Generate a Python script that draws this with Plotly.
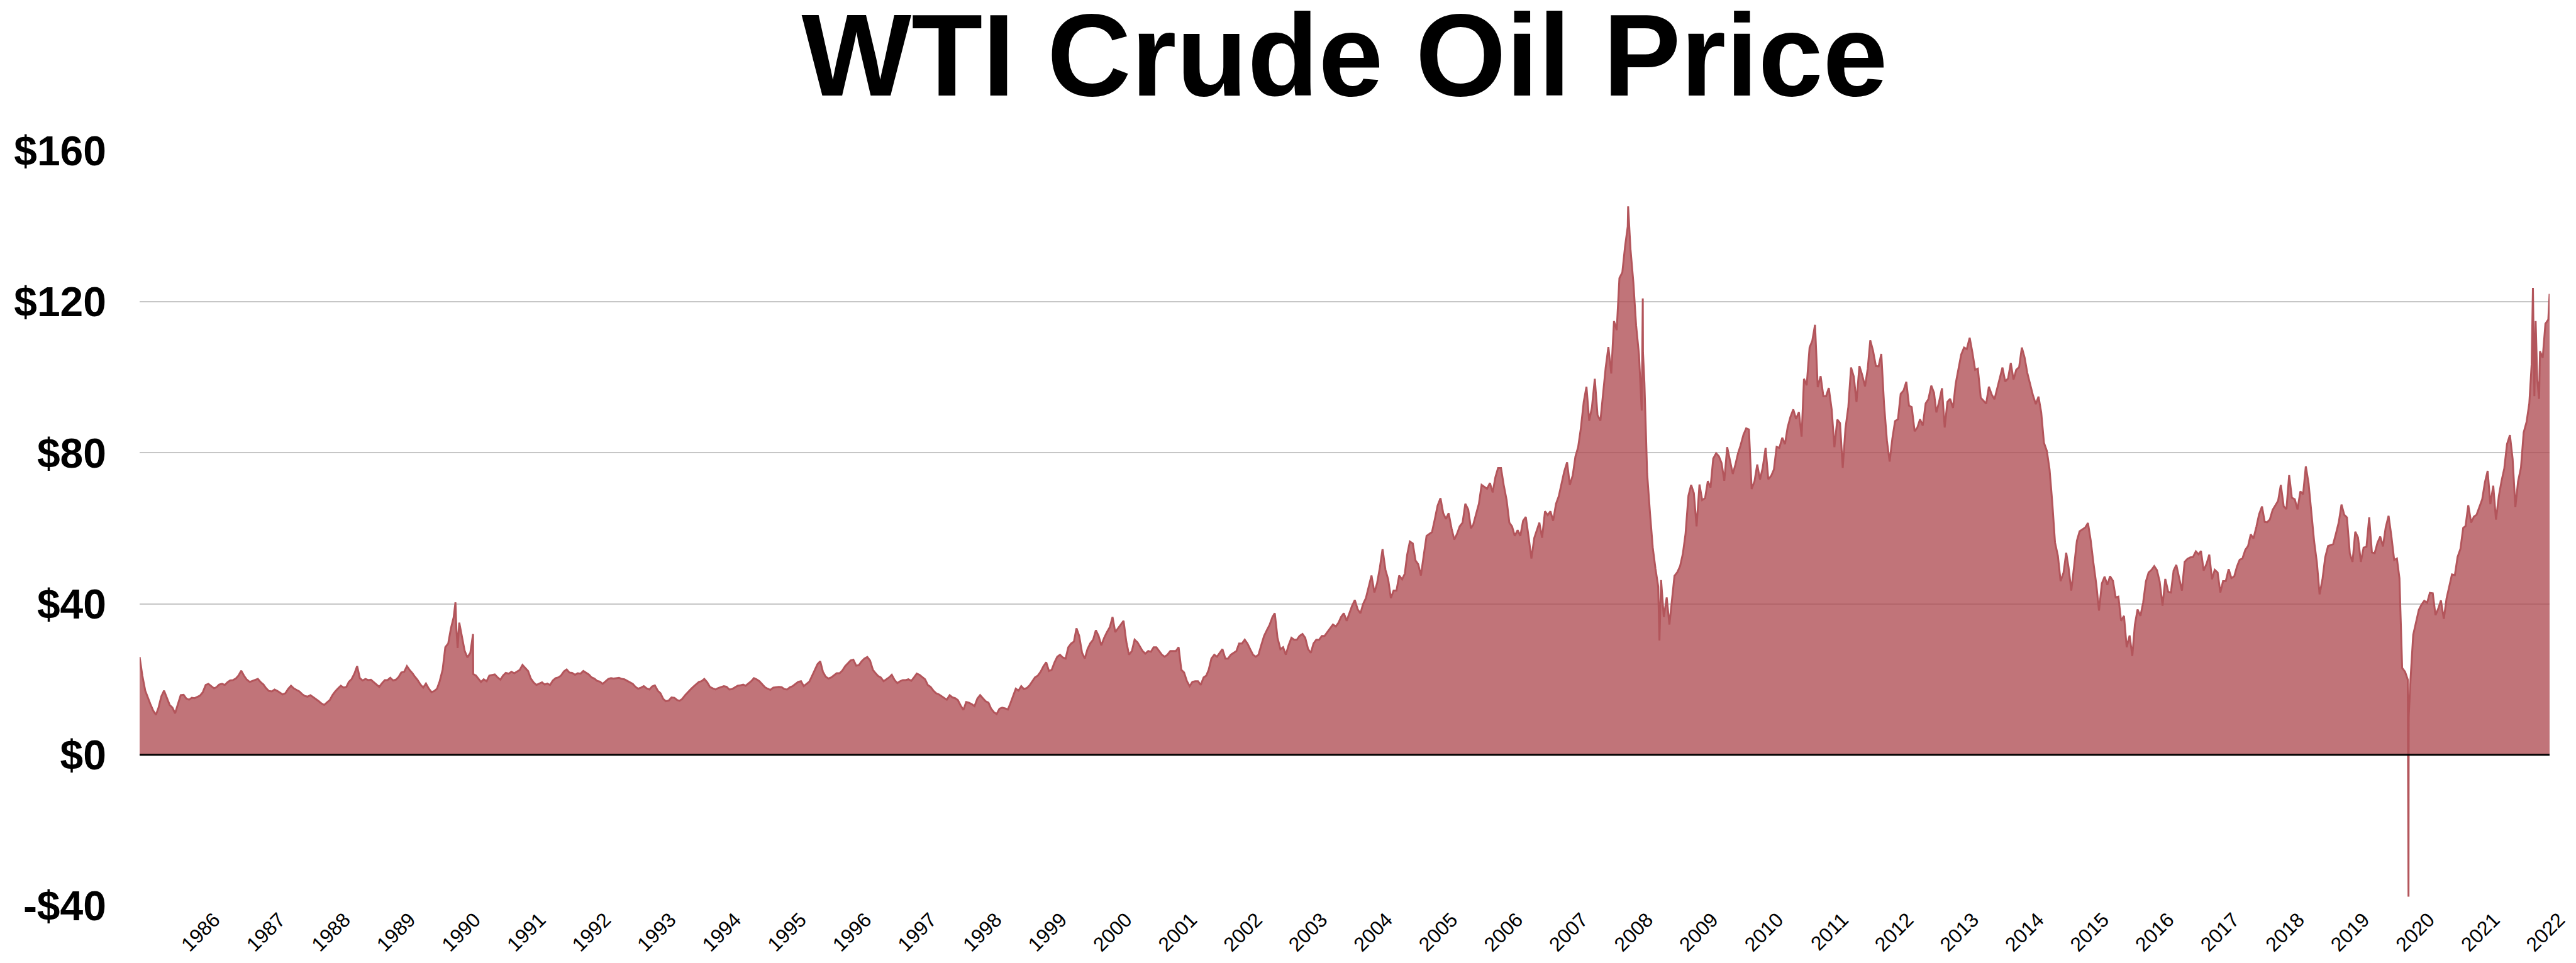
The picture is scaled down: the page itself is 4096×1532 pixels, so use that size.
import plotly.graph_objects as go
import pandas as pd

# Semi-monthly WTI prices (1st and 16th of each month)
wti_1986 = [25.9, 21.0, 17.0, 15.0, 13.5, 11.8, 10.6, 12.6, 15.5, 17.0, 15.0, 13.2, 12.5, 11.0, 13.5, 15.8, 15.9, 14.9, 14.6, 15.1, 15.0, 15.3, 15.7, 16.6]
wti_1987 = [18.5, 18.8, 18.2, 17.6, 17.9, 18.6, 18.8, 18.5, 19.2, 19.7, 19.8, 20.2, 21.0, 22.3, 20.9, 19.9, 19.3, 19.6, 19.9, 20.1, 19.2, 18.6, 17.6, 16.9]
wti_1988 = [16.8, 17.3, 16.9, 16.4, 16.0, 16.3, 17.5, 18.3, 17.6, 17.2, 16.8, 16.1, 15.6, 15.4, 15.8, 15.3, 14.8, 14.2, 13.6, 13.2, 13.9, 14.5, 15.8, 16.8]
wti_1989 = [17.6, 18.3, 17.8, 18.0, 19.3, 20.0, 21.5, 23.5, 20.3, 19.7, 20.1, 19.8, 19.9, 19.3, 18.6, 18.0, 19.0, 19.8, 19.8, 20.4, 19.7, 19.9, 20.6, 21.8]
wti_1990 = [22.0, 23.5, 22.4, 21.6, 20.7, 19.8, 18.6, 17.8, 18.9, 17.6, 16.6, 16.9, 17.5, 19.5, 22.5, 28.5, 29.5, 33.5, 36.4, 33.5, 35.0, 31.5, 27.5, 25.8]
wti_1991 = [27.0, 32.0, 21.0, 20.0, 19.3, 20.0, 19.5, 21.0, 21.2, 21.3, 20.5, 19.9, 21.0, 21.7, 21.5, 22.0, 21.6, 22.0, 22.5, 23.8, 23.0, 22.2, 20.2, 19.2]
wti_1992 = [18.5, 18.9, 19.2, 18.6, 18.9, 18.5, 19.7, 20.3, 20.5, 21.0, 22.1, 22.6, 21.8, 21.7, 21.2, 21.6, 21.5, 22.2, 21.8, 21.3, 20.5, 20.2, 19.6, 19.4]
wti_1993 = [18.8, 19.5, 20.1, 20.3, 20.2, 20.3, 20.4, 20.1, 20.0, 19.6, 19.2, 18.8, 18.0, 17.5, 17.8, 18.2, 17.6, 17.3, 18.1, 18.4, 17.0, 16.3, 14.8, 14.2]
wti_1994 = [14.4, 15.2, 15.1, 14.5, 14.3, 14.8, 15.8, 16.6, 17.3, 18.0, 18.7, 19.3, 19.5, 20.1, 19.2, 18.0, 17.6, 17.3, 17.7, 17.9, 18.2, 18.0, 17.3, 17.4]
wti_1995 = [17.8, 18.3, 18.4, 18.6, 18.3, 18.9, 19.5, 20.3, 20.0, 19.5, 18.6, 17.9, 17.5, 17.2, 17.8, 17.9, 18.0, 17.9, 17.4, 17.3, 17.9, 18.2, 18.8, 19.3]
wti_1996 = [19.5, 18.2, 18.8, 19.4, 20.8, 22.3, 24.0, 24.8, 22.0, 20.7, 20.2, 20.5, 21.0, 21.6, 21.6, 22.3, 23.5, 24.3, 25.0, 25.2, 23.6, 23.8, 24.8, 25.5]
wti_1997 = [25.9, 25.0, 22.5, 21.6, 20.9, 20.5, 19.5, 20.0, 20.5, 21.2, 19.8, 19.0, 19.5, 19.8, 19.8, 20.0, 19.6, 20.5, 21.5, 21.2, 20.6, 20.0, 18.5, 18.0]
wti_1998 = [17.0, 16.3, 16.0, 15.5, 15.0, 14.6, 15.8, 15.2, 15.0, 14.5, 13.0, 11.9, 14.0, 13.8, 13.4, 12.9, 14.9, 15.8, 15.0, 14.2, 13.8, 12.2, 11.3, 10.8]
wti_1999 = [12.2, 12.5, 12.3, 12.0, 13.5, 15.5, 17.5, 17.0, 18.2, 17.4, 17.7, 18.4, 19.5, 20.5, 21.0, 22.0, 23.5, 24.5, 22.2, 22.5, 24.5, 26.0, 26.5, 25.8]
wti_2000 = [25.5, 28.5, 29.5, 30.0, 33.5, 31.5, 27.0, 25.5, 28.0, 29.5, 30.5, 33.0, 31.5, 29.0, 31.0, 32.5, 33.8, 36.5, 32.5, 33.5, 34.5, 35.5, 30.0, 26.5]
wti_2001 = [27.5, 30.5, 29.8, 28.5, 27.5, 26.8, 27.5, 27.3, 28.5, 28.5, 27.5, 26.5, 26.0, 26.5, 27.5, 27.5, 27.5, 28.5, 22.5, 21.8, 19.5, 18.2, 19.3, 19.5]
wti_2002 = [19.5, 18.5, 20.5, 21.0, 22.5, 25.5, 26.5, 26.0, 27.0, 28.0, 25.5, 25.5, 26.5, 27.0, 27.5, 29.5, 29.5, 30.5, 29.5, 28.0, 26.5, 26.0, 26.5, 29.0]
wti_2003 = [31.5, 33.0, 34.5, 36.5, 37.5, 31.0, 28.0, 28.5, 26.5, 29.0, 31.0, 30.5, 30.5, 31.5, 32.0, 31.0, 28.0, 27.0, 29.5, 30.5, 30.5, 31.5, 31.5, 32.5]
wti_2004 = [33.5, 34.5, 34.0, 35.0, 36.5, 37.5, 35.5, 37.5, 39.5, 41.0, 38.5, 37.5, 40.0, 41.5, 44.5, 47.5, 43.0, 45.5, 49.5, 54.5, 49.0, 46.5, 41.5, 43.5]
wti_2005 = [43.5, 47.5, 46.5, 48.0, 53.0, 56.5, 56.0, 51.5, 50.5, 47.5, 53.0, 58.0, 58.5, 59.0, 62.5, 66.0, 68.0, 64.0, 62.5, 64.0, 60.0, 57.0, 58.5, 60.5]
wti_2006 = [61.5, 66.5, 65.0, 60.0, 61.0, 63.5, 66.5, 71.5, 71.0, 70.5, 72.0, 69.5, 73.5, 76.0, 76.0, 71.5, 67.5, 61.5, 60.5, 58.0, 59.5, 58.0, 62.0, 63.0]
wti_2007 = [57.5, 52.0, 57.5, 59.5, 61.5, 57.5, 64.5, 63.5, 64.5, 62.0, 66.5, 68.5, 72.0, 75.0, 77.5, 71.5, 74.0, 79.0, 81.5, 86.5, 93.5, 97.5, 88.5, 92.0]
wti_2008 = [99.6, 90.0, 88.5, 95.5, 102.5, 108.0, 101.0, 114.9, 112.5, 126.3, 127.8, 134.6, 140.0, 134.0, 125.1, 113.8, 106.0, 91.2, 98.5, 74.5, 63.9, 54.9, 49.3, 44.6]
wti_2009 = [46.3, 36.5, 41.7, 34.5, 40.2, 47.4, 48.4, 50.0, 53.2, 58.5, 68.6, 71.5, 69.3, 60.5, 71.6, 67.5, 68.0, 72.5, 70.8, 78.5, 79.9, 79.1, 77.3, 72.6]
wti_2010 = [81.5, 78.0, 74.4, 77.0, 79.7, 82.0, 84.8, 86.5, 86.2, 70.4, 72.5, 76.9, 72.9, 76.0, 81.3, 73.0, 73.9, 75.6, 81.6, 81.3, 84.0, 82.3, 86.8, 89.5]
wti_2011 = [91.5, 89.0, 90.8, 84.3, 99.6, 97.9, 107.9, 109.7, 113.9, 97.4, 100.3, 95.0, 95.0, 97.2, 91.5, 81.5, 88.8, 87.9, 76.0, 86.4, 92.2, 102.6, 100.2, 93.5]
wti_2012 = [103.0, 100.7, 97.6, 102.3, 109.8, 107.1, 103.0, 102.9, 106.2, 93.0, 83.2, 77.7, 83.8, 88.4, 88.9, 95.6, 96.5, 98.8, 92.5, 92.1, 85.7, 86.7, 88.9, 87.2]
wti_2013 = [93.1, 94.2, 97.8, 95.9, 90.7, 93.5, 97.1, 86.7, 93.5, 94.3, 91.9, 98.4, 101.9, 106.0, 107.9, 107.5, 110.5, 106.6, 102.0, 102.3, 94.6, 93.8, 93.0, 97.5]
wti_2014 = [95.4, 94.2, 97.4, 100.3, 102.6, 98.9, 99.7, 103.8, 99.4, 102.0, 102.7, 107.9, 105.3, 101.2, 97.9, 95.3, 92.9, 94.9, 90.7, 82.7, 80.5, 75.6, 66.8, 56.3]
wti_2015 = [52.7, 46.0, 48.2, 53.5, 49.6, 43.5, 50.1, 56.7, 59.2, 59.7, 60.2, 61.4, 56.9, 50.9, 45.2, 38.2, 45.4, 47.2, 45.0, 47.3, 46.1, 41.7, 41.9, 35.5]
wti_2016 = [36.8, 28.5, 31.6, 26.2, 34.4, 38.5, 36.8, 40.4, 45.9, 48.3, 49.0, 50.0, 48.9, 45.9, 39.5, 46.6, 43.2, 43.0, 48.8, 50.3, 46.7, 43.5, 51.1, 51.9]
wti_2017 = [52.3, 52.4, 53.9, 53.1, 54.0, 48.8, 50.6, 53.0, 46.5, 49.0, 48.3, 43.0, 46.0, 46.0, 49.2, 46.8, 47.3, 49.9, 51.7, 52.0, 54.3, 55.3, 58.4, 57.3]
wti_2018 = [60.4, 63.7, 65.8, 61.7, 61.6, 62.3, 64.9, 66.2, 67.3, 71.5, 65.8, 65.1, 74.1, 68.1, 67.7, 65.0, 69.8, 69.0, 76.4, 72.0, 63.7, 56.5, 51.0, 42.5]
wti_2019 = [46.5, 52.3, 55.3, 55.6, 55.8, 58.5, 61.6, 66.3, 63.6, 62.9, 53.3, 51.1, 59.1, 57.6, 51.1, 54.9, 55.1, 62.9, 53.6, 53.4, 56.2, 57.8, 55.2, 60.2]
wti_2020 = [63.3, 58.1, 51.6, 52.0, 46.8, 23.0, 22.0, 19.9, 19.8, 31.8, 35.4, 38.4, 39.8, 40.8, 40.3, 42.9, 42.8, 37.0, 38.7, 40.9, 36.0, 41.4, 44.6, 47.8]
wti_2021 = [47.6, 52.4, 54.6, 60.1, 60.6, 66.1, 61.5, 63.1, 63.6, 65.5, 67.7, 72.2, 75.2, 66.4, 71.3, 62.3, 68.6, 72.6, 75.9, 82.3, 84.7, 78.4, 65.6, 72.4]
wti_2022 = [76.1, 85.4, 88.2, 93.1, 103.4, 95.0, 99.3, 106.9, 105.2, 114.2, 115.3]

# Individual daily extremes visible as spikes
spike_dates = ["1990-10-11", "1990-10-23", "1991-01-17", "2008-07-03", "2008-09-22", "2008-09-23",
               "2008-12-23", "2020-04-20", "2020-04-21", "2022-03-08", "2022-03-23", "2022-04-11", "2022-06-08"]
spike_values = [40.4, 28.3, 21.4, 145.3, 120.9, 106.6, 30.3, -37.6, 10.0, 123.7, 114.9, 94.3, 122.1]

first_year = 1986
yearly_series = [wti_1986, wti_1987, wti_1988, wti_1989, wti_1990, wti_1991, wti_1992, wti_1993,
                 wti_1994, wti_1995, wti_1996, wti_1997, wti_1998, wti_1999, wti_2000, wti_2001,
                 wti_2002, wti_2003, wti_2004, wti_2005, wti_2006, wti_2007, wti_2008, wti_2009,
                 wti_2010, wti_2011, wti_2012, wti_2013, wti_2014, wti_2015, wti_2016, wti_2017,
                 wti_2018, wti_2019, wti_2020, wti_2021, wti_2022]

year_labels = ["1986", "1987", "1988", "1989", "1990", "1991", "1992", "1993", "1994", "1995",
               "1996", "1997", "1998", "1999", "2000", "2001", "2002", "2003", "2004", "2005",
               "2006", "2007", "2008", "2009", "2010", "2011", "2012", "2013", "2014", "2015",
               "2016", "2017", "2018", "2019", "2020", "2021", "2022"]

y_tick_values = [-40, 0, 40, 80, 120, 160]
y_tick_labels = ["-$40", "$0", "$40", "$80", "$120", "$160"]

# ---- assemble series ----
dates, prices = [], []
for yi, arr in enumerate(yearly_series):
    yr = first_year + yi
    for k, v in enumerate(arr):
        dates.append(pd.Timestamp(yr, k // 2 + 1, 1 if k % 2 == 0 else 16))
        prices.append(v)
for d, v in zip(spike_dates, spike_values):
    dates.append(pd.Timestamp(d))
    prices.append(v)
df = pd.DataFrame({"date": dates, "price": prices}).sort_values("date").reset_index(drop=True)

# ---- layout geometry ----
W, H = 4096, 1532
ML, MR, MT, MB = 214, 50, 232, 99
plot_w = W - ML - MR
x0, x1 = df["date"].min(), df["date"].max()
span = x1 - x0

LABEL_SHIFT = 60
n_lab = len(year_labels)
tick_vals = [x0 + span * ((i + 1.145) / n_lab - LABEL_SHIFT / plot_w) for i in range(n_lab)]

FONT = "Liberation Sans, Arial, Helvetica, sans-serif"

fig = go.Figure()
fig.add_trace(go.Scatter(
    x=df["date"], y=df["price"], mode="lines",
    fill="tozeroy", fillcolor="rgba(172,70,76,0.75)",
    line=dict(color="#b3555b", width=3),
    hoverinfo="skip", showlegend=False,
))

fig.update_layout(
    width=W, height=H,
    margin=dict(l=ML, r=MR, t=MT, b=MB, autoexpand=False),
    paper_bgcolor="white", plot_bgcolor="white",
    title=dict(text="WTI Crude Oil Price", x=0.5, xref="paper", xanchor="center",
               y=1 - 79 / H, yref="container", yanchor="middle",
               font=dict(family=FONT, size=185, color="black", weight="bold")),
    xaxis=dict(type="date", range=[x0, x1], showgrid=False, zeroline=False, showline=False,
               ticks="", tickmode="array", tickvals=tick_vals, ticktext=year_labels,
               tickangle=-45, ticklabelshift=LABEL_SHIFT, ticklabelstandoff=-4,
               tickfont=dict(family=FONT, size=32, color="black")),
    yaxis=dict(range=[-40, 160], tickmode="array", tickvals=y_tick_values, ticktext=y_tick_labels,
               showgrid=True, gridcolor="#c6c6c6", gridwidth=1.6, zeroline=False, showline=False,
               ticks="", ticklabelstandoff=52,
               tickfont=dict(family=FONT, size=66, color="black", weight="bold")),
    shapes=[dict(type="line", xref="paper", x0=0, x1=1, yref="y", y0=0, y1=0,
                 line=dict(color="black", width=3), layer="above")],
)

fig.write_html("out.html")
